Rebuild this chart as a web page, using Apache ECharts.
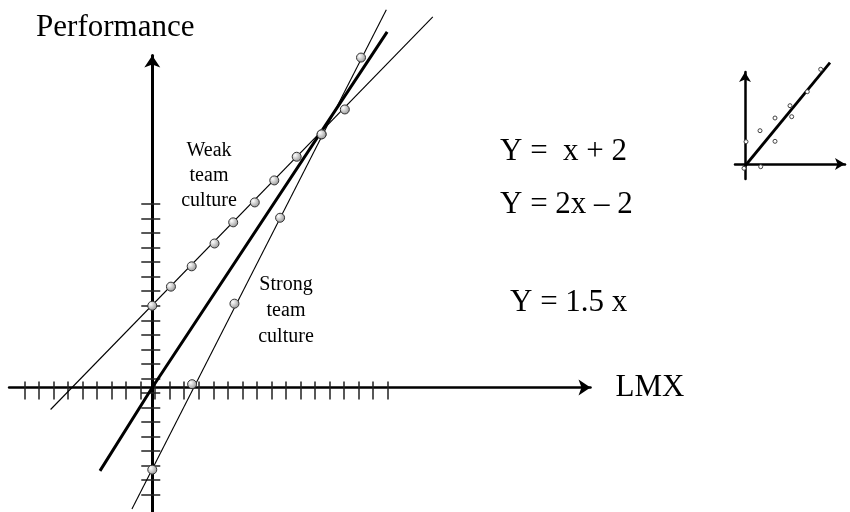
<!DOCTYPE html>
<html>
<head>
<meta charset="utf-8">
<script src="https://cdn.jsdelivr.net/npm/echarts@6/dist/echarts.min.js"></script>
<style>
html, body { margin: 0; padding: 0; background: #fff; }
#chart_1 { width: 850px; height: 512px; }
</style>
</head>
<body>
<div id="chart_1"></div>
<script>
// main diagram, in equation units (Y = x + 2, Y = 2x - 2, Y = 1.5x)
var weakLine = [[-2.45, -0.53], [6.76, 8.93]];
var weakDots = [[0, 1.97], [0.45, 2.43], [0.95, 2.92], [1.5, 3.47], [1.95, 3.98], [2.47, 4.46], [2.94, 4.99], [3.48, 5.56], [4.08, 6.1], [4.64, 6.7]];
var strongLine = [[-0.49, -2.93], [5.64, 9.1]];
var strongDots = [[0, -1.98], [0.96, 0.08], [1.98, 2.02], [3.08, 4.09], [4.08, 6.1], [5.03, 7.95]];
var avgLine = [[-1.26, -2.01], [0, 0], [5.66, 8.57]];

var xTicks = [-3.08, -2.73, -2.38, -2.03, -1.68, -1.33, -0.98, -0.63, -0.28, 0.07, 0.42, 0.77, 1.12, 1.47, 1.82, 2.17, 2.52, 2.87, 3.22, 3.57, 3.92, 4.27, 4.62, 4.97, 5.32, 5.67];
var yTicks = [4.42, 4.07, 3.72, 3.37, 3.02, 2.67, 2.32, 1.97, 1.62, 1.27, 0.92, 0.57, 0.22, -0.13, -0.48, -0.83, -1.18, -1.53, -1.88, -2.23, -2.58];

// small inset at the right
var insetLine = [[0, -0.2], [8.5, 10.13]];
var insetDots = [[0.1, 2.23], [1.5, 3.33], [3.0, 4.6], [3.0, 2.27], [4.5, 5.83], [4.67, 4.73], [6.23, 7.23], [7.57, 9.47], [1.57, -0.27], [-0.1, -0.43]];

var equations = ['Y =  x + 2', 'Y = 2x \u2013 2', 'Y = 1.5 x'];

var serif = '"Liberation Serif", "Times New Roman", serif';
var ball = {
    type: 'radial', x: 0.35, y: 0.35, r: 0.75,
    colorStops: [{ offset: 0, color: '#ffffff' }, { offset: 1, color: '#8a8a8a' }]
};

function tickAxis(dim, gridIndex, min, max, ticks, inside, len, showLine, lineWidth) {
    var ax = {
        type: 'value',
        gridIndex: gridIndex,
        min: min,
        max: max,
        position: dim === 'x' ? 'bottom' : 'left',
        splitLine: { show: false },
        axisLabel: { show: false },
        axisLine: {
            show: showLine,
            onZero: true,
            symbol: ['none', 'arrow'],
            symbolSize: [12, 12],
            lineStyle: { color: '#000', width: lineWidth }
        },
        axisTick: {
            show: ticks != null,
            inside: inside,
            length: len,
            customValues: ticks || [],
            lineStyle: { color: '#222', width: 1.5 }
        }
    };
    return ax;
}

function label(x, y, text, size, align, lineHeight) {
    return {
        type: 'text', x: x, y: y,
        style: {
            text: text, font: size + 'px ' + serif, fill: '#000', lineHeight: lineHeight,
            align: align, verticalAlign: 'middle', textAlign: align, textVerticalAlign: 'middle'
        }
    };
}

var chart_1 = echarts.init(document.getElementById('chart_1'));

var xMain = tickAxis('x', 0, -3.45, 10.56, xTicks, false, 12, true, 2.5);
xMain.name = 'LMX';
xMain.nameLocation = 'end';
xMain.nameGap = 25;
xMain.nameTextStyle = { fontFamily: serif, fontSize: 31, color: '#000', padding: [0, 0, 8, 0] };

var yMain = tickAxis('y', 0, -3, 8, yTicks, false, 11, true, 3);
yMain.name = 'Performance';
yMain.nameLocation = 'end';
yMain.nameGap = 12;
yMain.nameTextStyle = { fontFamily: serif, fontSize: 31, color: '#000', padding: [0, 74, 0, 0] };

var xInset = tickAxis('x', 1, -1, 10, null, false, 0, true, 2.5);
xInset.axisLine.symbolSize = [9, 10];
var yInset = tickAxis('y', 1, -1.5, 9.2, null, false, 0, true, 2.5);
yInset.axisLine.symbolSize = [9, 10];

var option = {
    animation: false,
    backgroundColor: '#fff',
    grid: [{
        left: 9.1, right: 259.5, top: 55.5, bottom: 0,
        containLabel: false, outerBoundsMode: 'none'
    }, {
        left: 735, right: 5, top: 72, bottom: 333,
        containLabel: false, outerBoundsMode: 'none'
    }],
    xAxis: [
        xMain,
        tickAxis('x', 0, -3.45, 10.56, xTicks, true, 6, false, 0),
        xInset
    ],
    yAxis: [
        yMain,
        tickAxis('y', 0, -3, 8, yTicks, true, 8, false, 0),
        yInset
    ],
    graphic: [
        label(209, 175.5, 'Weak\nteam\nculture', 20, 'center', 25),
        label(286, 311, 'Strong\nteam\nculture', 20, 'center', 26),
        label(500, 152, equations[0], 31, 'left'),
        label(500, 205, equations[1], 31, 'left'),
        label(510, 303, equations[2], 31, 'left')
    ],
    series: [{
        name: 'Weak team culture',
        type: 'line',
        xAxisIndex: 0, yAxisIndex: 0,
        data: weakLine,
        showSymbol: false,
        clip: false,
        lineStyle: { color: '#000', width: 1.1 },
        z: 3
    }, {
        name: 'Strong team culture',
        type: 'line',
        xAxisIndex: 0, yAxisIndex: 0,
        data: strongLine,
        showSymbol: false,
        clip: false,
        lineStyle: { color: '#000', width: 1.1 },
        z: 3
    }, {
        name: 'Y = 1.5 x',
        type: 'line',
        xAxisIndex: 0, yAxisIndex: 0,
        data: avgLine,
        showSymbol: false,
        clip: false,
        lineStyle: { color: '#000', width: 3 },
        z: 3
    }, {
        name: 'weak points',
        type: 'scatter',
        xAxisIndex: 0, yAxisIndex: 0,
        data: weakDots,
        symbolSize: 9,
        clip: false,
        itemStyle: { color: ball, borderColor: '#333', borderWidth: 1, opacity: 1 },
        z: 5
    }, {
        name: 'strong points',
        type: 'scatter',
        xAxisIndex: 0, yAxisIndex: 0,
        data: strongDots,
        symbolSize: 9,
        clip: false,
        itemStyle: { color: ball, borderColor: '#333', borderWidth: 1, opacity: 1 },
        z: 5
    }, {
        name: 'inset line',
        type: 'line',
        xAxisIndex: 2, yAxisIndex: 2,
        data: insetLine,
        showSymbol: false,
        clip: false,
        lineStyle: { color: '#000', width: 2.8 },
        z: 3
    }, {
        name: 'inset points',
        type: 'scatter',
        xAxisIndex: 2, yAxisIndex: 2,
        data: insetDots,
        symbolSize: 4,
        clip: false,
        itemStyle: { color: '#fff', borderColor: '#444', borderWidth: 1, opacity: 1 },
        z: 5
    }]
};
chart_1.setOption(option);
</script>
</body>
</html>
